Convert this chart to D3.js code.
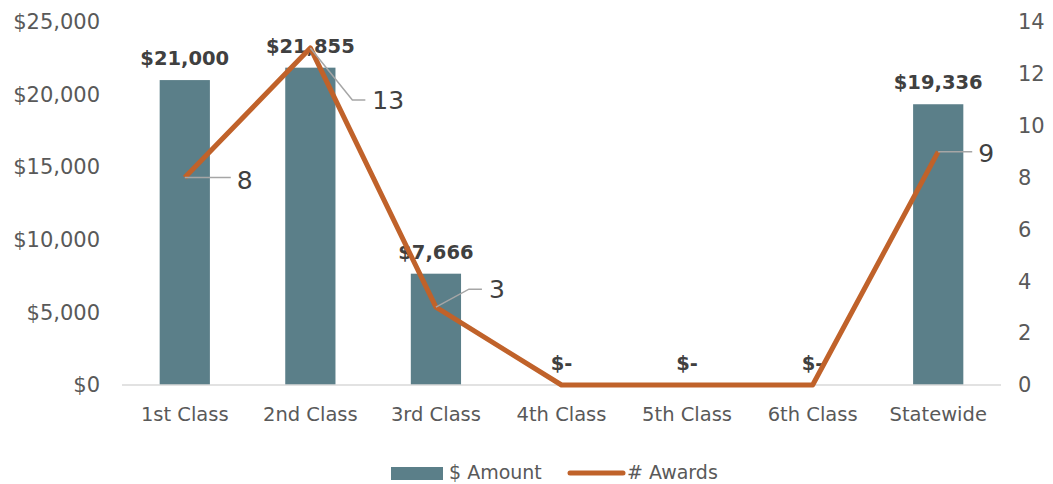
<!DOCTYPE html>
<html>
<head>
<meta charset="utf-8">
<script src="https://cdn.jsdelivr.net/npm/d3@7"></script>
<style>
  body { margin: 0; background: #fff; }
  text { font-family: "DejaVu Sans", sans-serif; }
</style>
</head>
<body>
<div id="vis"></div>
<script>
// chart data
const categories = ['1st Class', '2nd Class', '3rd Class', '4th Class', '5th Class', '6th Class', 'Statewide'];
const amounts = [21000, 21855, 7666, 0, 0, 0, 19336];
const awards = [8, 13, 3, 0, 0, 0, 9];
const amountTicks = [0, 5000, 10000, 15000, 20000, 25000];
const awardTicks = [0, 2, 4, 6, 8, 10, 12, 14];

// where the award labels sit relative to their point (null = no label)
const awardLabelOffsets = [[52, 2], [62, 52], [53, -18], null, null, null, [40, 1]];

const width = 1053;
const height = 484;
const margin = { top: 22, right: 52, bottom: 99, left: 122 };

const barColour = '#5b7f89';
const lineColour = '#c0622a';

const svg = d3.select('#vis')
  .append('svg')
  .attr('width', width)
  .attr('height', height);

const x = d3.scaleBand()
  .domain(categories)
  .range([margin.left, width - margin.right])
  .paddingInner(0.6)
  .paddingOuter(0.3);

const yLeft = d3.scaleLinear()
  .domain([0, 25000])
  .range([height - margin.bottom, margin.top]);

const yRight = d3.scaleLinear()
  .domain([0, 14])
  .range([height - margin.bottom, margin.top]);

const money = d3.format(',');

// left axis
const leftAxis = svg.append('g')
  .attr('transform', `translate(${margin.left - 22},0)`)
  .call(d3.axisLeft(yLeft).tickValues(amountTicks).tickSize(0).tickPadding(0)
    .tickFormat(d => '$' + money(d)));
leftAxis.select('.domain').remove();
leftAxis.selectAll('text')
  .attr('fill', '#595959')
  .style('font-size', '21px')
  .style('font-family', '"DejaVu Sans", sans-serif');

// right axis
const rightAxis = svg.append('g')
  .attr('transform', `translate(${width - margin.right + 17},0)`)
  .call(d3.axisRight(yRight).tickValues(awardTicks).tickSize(0).tickPadding(0));
rightAxis.select('.domain').remove();
rightAxis.selectAll('text')
  .attr('fill', '#595959')
  .style('font-size', '21px')
  .style('font-family', '"DejaVu Sans", sans-serif');

// bars
svg.selectAll('.bar')
  .data(amounts)
  .enter()
  .append('rect')
  .attr('class', 'bar')
  .attr('x', (d, i) => x(categories[i]))
  .attr('width', x.bandwidth())
  .attr('y', d => yLeft(d))
  .attr('height', d => yLeft(0) - yLeft(d))
  .attr('fill', barColour);

// baseline
svg.append('line')
  .attr('x1', margin.left)
  .attr('x2', width - margin.right)
  .attr('y1', yLeft(0))
  .attr('y2', yLeft(0))
  .attr('stroke', '#d9d9d9')
  .attr('stroke-width', 1.5);

// category labels
svg.selectAll('.cat')
  .data(categories)
  .enter()
  .append('text')
  .attr('class', 'cat')
  .attr('x', d => x(d) + x.bandwidth() / 2)
  .attr('y', yLeft(0) + 36)
  .attr('text-anchor', 'middle')
  .attr('fill', '#595959')
  .style('font-size', '19.5px')
  .text(d => d);

// bar value labels
svg.selectAll('.amt')
  .data(amounts)
  .enter()
  .append('text')
  .attr('class', 'amt')
  .attr('x', (d, i) => x(categories[i]) + x.bandwidth() / 2)
  .attr('y', d => yLeft(d) - 15)
  .attr('text-anchor', 'middle')
  .attr('fill', '#404040')
  .style('font-size', '19.5px')
  .style('font-weight', 'bold')
  .text(d => d === 0 ? '$-' : '$' + money(d));

// awards line
const line = d3.line()
  .x((d, i) => x(categories[i]) + x.bandwidth() / 2)
  .y(d => yRight(d));

svg.append('path')
  .datum(awards)
  .attr('d', line)
  .attr('fill', 'none')
  .attr('stroke', lineColour)
  .attr('stroke-width', 5)
  .attr('stroke-linejoin', 'round');

// award labels with leader lines
awards.forEach(function (d, i) {
  const off = awardLabelOffsets[i];
  if (!off) return;
  const px = x(categories[i]) + x.bandwidth() / 2;
  const py = yRight(d);
  const ax = px + off[0];
  const ay = py + off[1];
  let path;
  if (Math.abs(off[1]) < 5) {
    path = `M${px},${py}L${ax - 6},${py}`;
  } else {
    path = `M${px},${py}L${ax - 20},${ay}L${ax - 7},${ay}`;
  }
  svg.append('path')
    .attr('d', path)
    .attr('fill', 'none')
    .attr('stroke', '#a6a6a6')
    .attr('stroke-width', 1.5);
  svg.append('text')
    .attr('x', ax)
    .attr('y', ay)
    .attr('dy', '0.36em')
    .attr('fill', '#404040')
    .style('font-size', '25px')
    .text(d);
});

// legend
const legend = svg.append('g');
legend.append('rect')
  .attr('x', 391)
  .attr('y', 467)
  .attr('width', 52)
  .attr('height', 13)
  .attr('fill', barColour);
legend.append('text')
  .attr('x', 449)
  .attr('y', 479)
  .attr('fill', '#595959')
  .style('font-size', '19px')
  .text('$ Amount');
legend.append('line')
  .attr('x1', 570)
  .attr('x2', 623)
  .attr('y1', 473)
  .attr('y2', 473)
  .attr('stroke', lineColour)
  .attr('stroke-width', 5)
  .attr('stroke-linecap', 'round');
legend.append('text')
  .attr('x', 627)
  .attr('y', 479)
  .attr('fill', '#595959')
  .style('font-size', '19px')
  .text('# Awards');
</script>
</body>
</html>
